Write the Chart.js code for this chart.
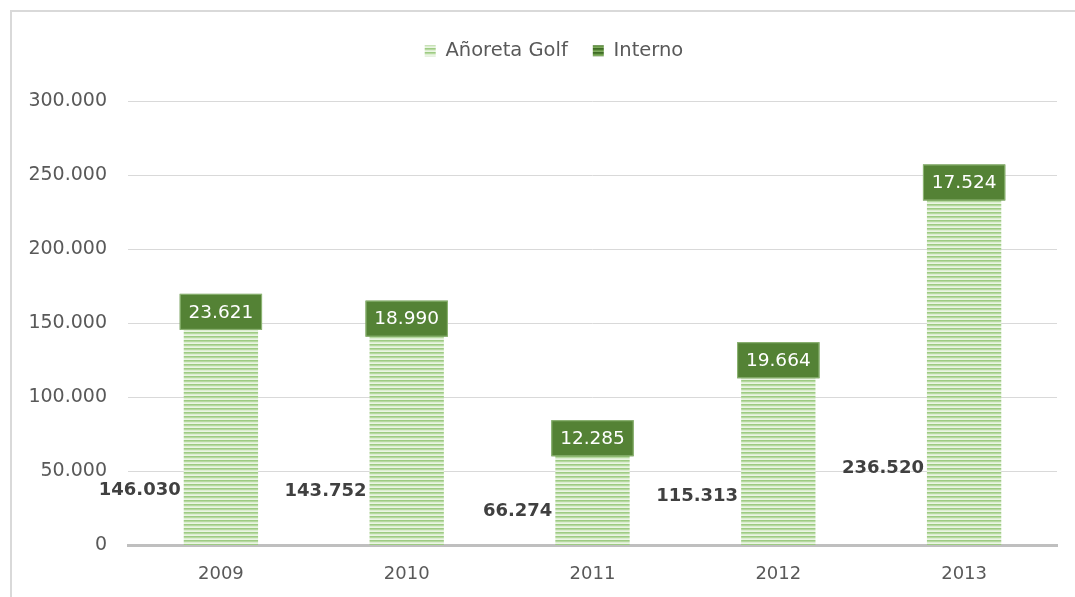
<!DOCTYPE html>
<html>
<head>
<meta charset="utf-8">
<script src="https://cdn.jsdelivr.net/npm/chart.js@4"></script>
<style>
  html, body { margin: 0; padding: 0; background: #ffffff; }
  #c { display: block; }
</style>
</head>
<body>
<canvas id="c" width="1075" height="597"></canvas>
<script>
// ---- data ----
const years = ['2009', '2010', '2011', '2012', '2013'];
const golfValues = [146030, 143752, 66274, 115313, 236520];
const internoValues = [23621, 18990, 12285, 19664, 17524];
const seriesNames = ['Añoreta Golf', 'Interno'];
const yTickMax = 300000;
const yTickStep = 50000;

// ---- helpers ----
function fmt(v) {
  return String(Math.round(v)).replace(/\B(?=(\d{3})+(?!\d))/g, '.');
}
function makePattern(colors) {
  const p = document.createElement('canvas');
  p.width = 4; p.height = colors.length;
  const g = p.getContext('2d');
  colors.forEach((c, i) => { g.fillStyle = c; g.fillRect(0, i, 4, 1); });
  return document.getElementById('c').getContext('2d').createPattern(p, 'repeat');
}
const golfPattern = makePattern(['#9ecb83', '#b6d9a0', '#dcedd1', '#eaf5e3']);
const internoPattern = makePattern(['#3f6b25', '#4a7a2e', '#6a9a48', '#7faa60']);

const FONT = 'DejaVu Sans';

// where the golf labels sit (value units along the y axis), style only
const golfLabelLevels = [37000, 36700, 23000, 33000, 52000];

const framePlugin = {
  id: 'frame',
  beforeDraw(chart) {
    const ctx = chart.ctx;
    ctx.save();
    ctx.fillStyle = '#ffffff';
    ctx.fillRect(0, 0, chart.width, chart.height);
    ctx.strokeStyle = '#d9d9d9';
    ctx.lineWidth = 2;
    ctx.beginPath();
    ctx.moveTo(11, chart.height);
    ctx.lineTo(11, 11);
    ctx.lineTo(chart.width, 11);
    ctx.stroke();
    ctx.restore();
  }
};

const legendSpacer = {
  id: 'legendSpacer',
  beforeInit(chart) {
    const origFit = chart.legend.fit;
    chart.legend.fit = function () {
      origFit.call(this);
      this.height += 31;
    };
  },
  afterLayout(chart) {
    chart.legend.left += 20;
    chart.legend.right += 20;
  }
};

const labelPlugin = {
  id: 'barLabels',
  afterDatasetsDraw(chart) {
    const ctx = chart.ctx;
    const yScale = chart.scales.y;
    ctx.save();
    // golf labels: bold, left of bar
    const m0 = chart.getDatasetMeta(0);
    ctx.font = 'bold 18px "' + FONT + '"';
    ctx.fillStyle = '#404040';
    ctx.textAlign = 'right';
    ctx.textBaseline = 'middle';
    m0.data.forEach((bar, i) => {
      const x = bar.x - bar.width / 2 - 3;
      const y = yScale.getPixelForValue(golfLabelLevels[i]);
      ctx.fillText(fmt(golfValues[i]), x, y);
    });
    // interno labels: white text in dark green box
    const m1 = chart.getDatasetMeta(1);
    ctx.font = '18.5px "' + FONT + '"';
    ctx.textAlign = 'center';
    m1.data.forEach((bar, i) => {
      const cy = (bar.y + bar.base) / 2;
      const w = bar.width + 8, h = 36;
      ctx.fillStyle = '#548235';
      ctx.fillRect(bar.x - w / 2, cy - h / 2, w, h);
      ctx.strokeStyle = '#8fb676';
      ctx.lineWidth = 1;
      ctx.strokeRect(bar.x - w / 2 + 0.5, cy - h / 2 + 0.5, w - 1, h - 1);
      ctx.fillStyle = '#ffffff';
      ctx.fillText(fmt(internoValues[i]), bar.x, cy + 1);
    });
    ctx.restore();
  }
};

new Chart(document.getElementById('c'), {
  type: 'bar',
  data: {
    labels: years,
    datasets: [
      {
        label: seriesNames[0],
        data: golfValues,
        backgroundColor: golfPattern,
        borderWidth: 0,
        categoryPercentage: 1,
        barPercentage: 0.4
      },
      {
        label: seriesNames[1],
        data: internoValues,
        backgroundColor: internoPattern,
        borderWidth: 0,
        categoryPercentage: 1,
        barPercentage: 0.4
      }
    ]
  },
  options: {
    responsive: false,
    animation: false,
    devicePixelRatio: 1,
    layout: { padding: { left: 11, right: 18, top: 16, bottom: -6 } },
    plugins: {
      legend: {
        position: 'top',
        labels: {
          boxWidth: 11,
          boxHeight: 11,
          padding: 25,
          color: '#595959',
          font: { family: FONT, size: 19.5 }
        }
      },
      tooltip: { enabled: false }
    },
    scales: {
      x: {
        stacked: true,
        grid: { display: false, drawTicks: false },
        border: { display: true, color: '#bfbfbf', width: 3 },
        ticks: {
          color: '#595959',
          padding: 18,
          font: { family: FONT, size: 18 }
        }
      },
      y: {
        stacked: true,
        min: 0,
        max: yTickMax,
        afterFit(axis) { axis.width = 117; },
        grid: { color: '#d9d9d9', lineWidth: 1, drawTicks: false },
        border: { display: false },
        ticks: {
          stepSize: yTickStep,
          color: '#595959',
          padding: 21,
          font: { family: FONT, size: 19 },
          callback: (v) => fmt(v)
        }
      }
    }
  },
  plugins: [framePlugin, legendSpacer, labelPlugin]
});
</script>
</body>
</html>
